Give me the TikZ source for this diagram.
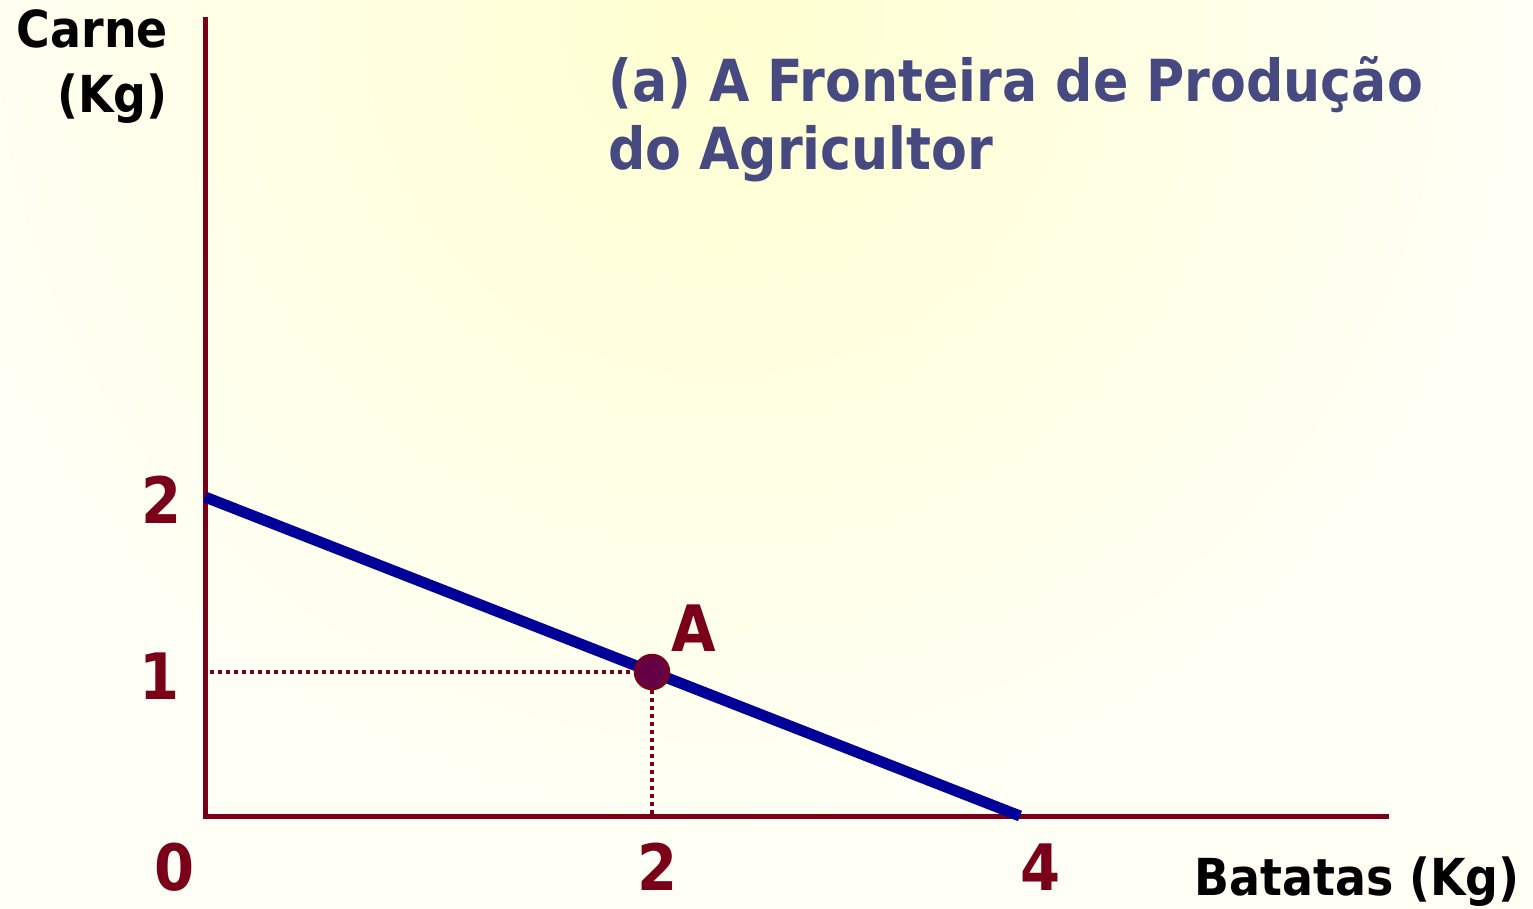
\documentclass[tikz,border=0pt]{standalone}
\usepackage{fontspec}
\newfontfamily\tf{DejaVu Sans Condensed Bold}
\definecolor{maroon}{RGB}{122,0,25}
\definecolor{pblue}{RGB}{0,0,153}
\definecolor{ptfill}{RGB}{102,0,68}
\definecolor{ttl}{RGB}{70,74,128}
\definecolor{bgin}{RGB}{255,255,208}
\definecolor{bgout}{RGB}{255,255,246}
\tikzset{
  axis/.style={draw=maroon,line width=5pt},
  frontier/.style={draw=pblue,line width=11pt},
  guide/.style={draw=maroon,line width=3.5pt,dash pattern=on 4pt off 4pt},
  axlabel/.style={inner sep=0pt,font=\tf\fontsize{51}{65}\selectfont,text=black},
  num/.style={inner sep=0pt,font=\tf\fontsize{64}{64}\selectfont,text=maroon},
}
\begin{document}
\begin{tikzpicture}[x=1pt,y=-1pt]
\useasboundingbox (0,0) rectangle (1533,909);
\begin{scope}
\clip (0,0) rectangle (1533,909);
\fill[bgout] (0,0) rectangle (1533,909);
\shade[inner color=bgin,outer color=bgout] (720,20) circle (820);
\end{scope}
% axes
\coordinate (O) at (205,816);
\coordinate (ytop) at (205,17);
\coordinate (xend) at (1389,816);
\coordinate (c2) at (205,497);
\coordinate (c4) at (1020,816);
\coordinate (y1) at (210,672);
\coordinate (x2) at (652,816);
\draw[axis] (205,818.5) -- (ytop);
\draw[axis] (202.5,816) -- (xend);
% frontier
\draw[frontier] (c2) -- (c4);
% point A
\node[circle,fill=ptfill,draw=maroon,line width=2.5pt,minimum size=34pt,inner sep=0pt] (A) at (652,672) {};
\draw[guide] (y1) -- (A.west);
\draw[guide] (A.south) -- (x2);
\node[num,anchor=center] (Alab) at (694,628) {A};
% labels
\node[axlabel,anchor=base east,align=right] (carne) at (168,113) {Carne\\(Kg)};
\node[axlabel,anchor=base east] (batatas) at (1520,895) {Batatas (Kg)};
\node[inner sep=0pt,anchor=base west,align=left,text=ttl,font=\tf\fontsize{58}{68}\selectfont] (title) at (608,170) {(a) A Fronteira de Produção\\do Agricultor};
% ticks
\node[num] (n2y) at (162,500) {2};
\node[num] (n1y) at (160,676) {1};
\node[num] (n0) at (175,867) {0};
\node[num] (n2x) at (658,867) {2};
\node[num] (n4x) at (1041,867) {4};
\end{tikzpicture}
\end{document}
